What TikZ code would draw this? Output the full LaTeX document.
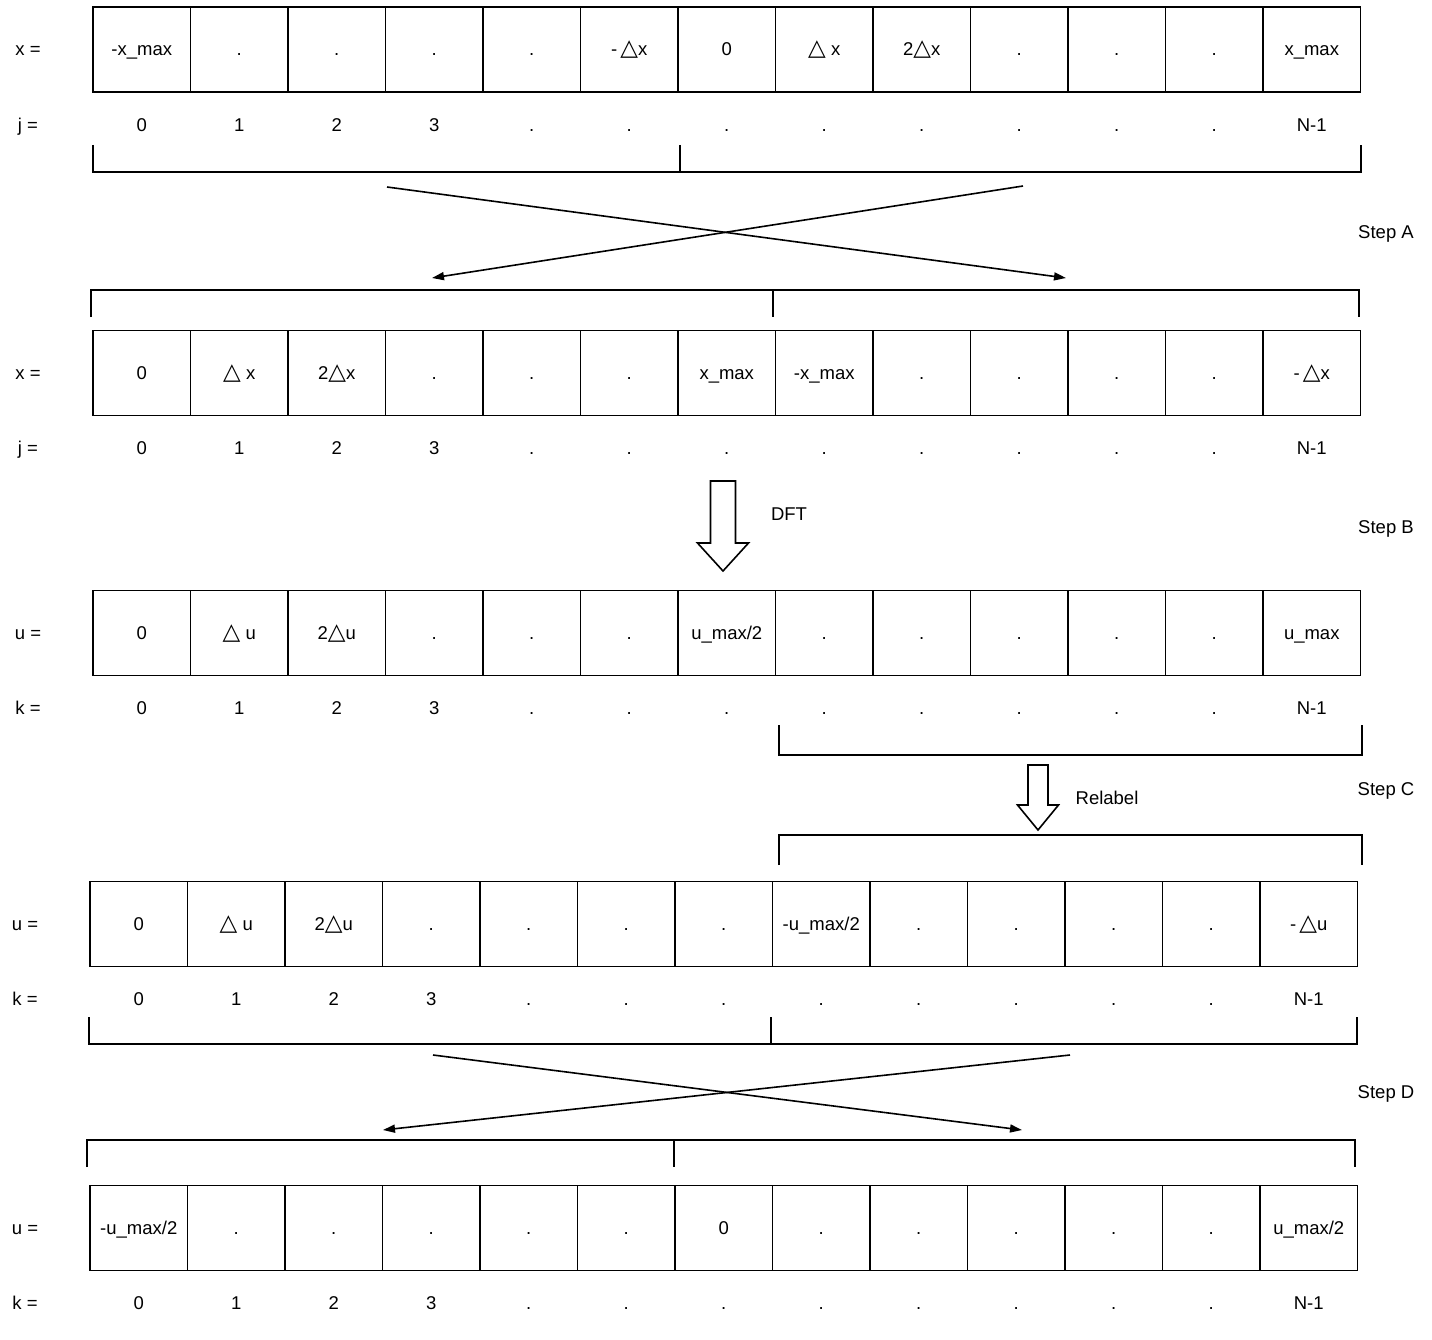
\documentclass[tikz,border=0pt]{standalone}
\usepackage{fontspec}
\setmainfont{Liberation Sans}
\newfontfamily\symfont{DejaVu Sans}
\usetikzlibrary{arrows.meta}

\newcommand{\tri}{{\symfont\fontsize{23}{23}\selectfont\char"25B3}}

\begin{document}
\begin{tikzpicture}[x=1pt, y=-1pt, line width=1.6pt,
  font=\fontsize{18.5}{21}\selectfont,
  every node/.style={text height=13pt, text depth=0pt},
  cell/.style={draw, minimum width=97.5pt, minimum height=85pt, inner sep=0pt},
  idx/.style={inner sep=1pt},
  brk/.style={line width=1.6pt},
  xarr/.style={line width=1.6pt, -{Triangle[length=12pt, width=8pt]}},
  hollow/.style={line width=1.6pt, fill=white}]
  \useasboundingbox (0,0) rectangle (1432,1340);

  % row 1: x before shift
  \node (lxa) at (28,49.5) {x =};
  \node (lja) at (28,125) {j =};
  \foreach \v [count=\i from 0] in {-x\_max,.,.,.,.,-\,\tri x,0,\tri\ x,2\tri x,.,.,.,x\_max}
    \node[cell] (xa\i) at ({141.75+97.5*\i},49.5) {\v};
  \foreach \v [count=\i from 0] in {0,1,2,3,.,.,.,.,.,.,.,.,N-1}
    \node[idx, yshift=-75.5pt] (ja\i) at (xa\i) {\v};

  \draw[brk] (93,145) -- (93,172) -- (1361,172) -- (1361,145);
  \draw[brk] (680,145) -- (680,172);

  % step A
  \coordinate (aL) at (387,187);
  \coordinate (aR) at (1023,186);
  \coordinate (aLe) at (432,278);
  \coordinate (aRe) at (1066,278);
  \draw[xarr] (aL) -- (aRe);
  \draw[xarr] (aR) -- (aLe);
  \node (stepA) at (1386,232) {Step A};

  \draw[brk] (91,317) -- (91,290) -- (1359,290) -- (1359,317);
  \draw[brk] (773,290) -- (773,317);

  % row 2: x after shift
  \node (lxb) at (28,373) {x =};
  \node (ljb) at (28,448) {j =};
  \foreach \v [count=\i from 0] in {0,\tri\ x,2\tri x,.,.,.,x\_max,-x\_max,.,.,.,.,-\,\tri x}
    \node[cell] (xb\i) at ({141.75+97.5*\i},373) {\v};
  \foreach \v [count=\i from 0] in {0,1,2,3,.,.,.,.,.,.,.,.,N-1}
    \node[idx, yshift=-75pt] (jb\i) at (xb\i) {\v};

  % step B
  \coordinate (dft) at (723,481);
  \draw[hollow] (dft) ++(-12.5,0) -- ++(0,62) -- ++(-13,0) -- (723,571)
    -- (748.5,543) -- ++(-13,0) -- ++(0,-62) -- cycle;
  \node (dftl) at (789,514) {DFT};
  \node (stepB) at (1386,527) {Step B};

  % row 3: u before relabel
  \node (lua) at (28,633) {u =};
  \node (lka) at (28,708) {k =};
  \foreach \v [count=\i from 0] in {0,\tri\ u,2\tri u,.,.,.,u\_max/2,.,.,.,.,.,u\_max}
    \node[cell] (ua\i) at ({141.75+97.5*\i},633) {\v};
  \foreach \v [count=\i from 0] in {0,1,2,3,.,.,.,.,.,.,.,.,N-1}
    \node[idx, yshift=-75pt] (ka\i) at (ua\i) {\v};

  \draw[brk] (779,725) -- (779,755) -- (1362,755) -- (1362,725);

  % step C
  \coordinate (rel) at (1038,765);
  \draw[hollow] (rel) ++(-10,0) -- ++(0,40) -- ++(-10.5,0) -- (1038,830)
    -- (1058.5,805) -- ++(-10.5,0) -- ++(0,-40) -- cycle;
  \node (rell) at (1107,798) {Relabel};
  \node (stepC) at (1386,789) {Step C};

  \draw[brk] (779,865) -- (779,835) -- (1362,835) -- (1362,865);

  % row 4: u after relabel
  \node (lub) at (25,924) {u =};
  \node (lkb) at (25,999) {k =};
  \foreach \v [count=\i from 0] in {0,\tri\ u,2\tri u,.,.,.,.,-u\_max/2,.,.,.,.,-\,\tri u}
    \node[cell] (ub\i) at ({138.75+97.5*\i},924) {\v};
  \foreach \v [count=\i from 0] in {0,1,2,3,.,.,.,.,.,.,.,.,N-1}
    \node[idx, yshift=-75pt] (kb\i) at (ub\i) {\v};

  \draw[brk] (89,1017) -- (89,1044) -- (1357,1044) -- (1357,1017);
  \draw[brk] (771,1017) -- (771,1044);

  % step D
  \coordinate (dL) at (433,1055);
  \coordinate (dR) at (1070,1055);
  \coordinate (dLe) at (383,1130);
  \coordinate (dRe) at (1022,1130);
  \draw[xarr] (dL) -- (dRe);
  \draw[xarr] (dR) -- (dLe);
  \node (stepD) at (1386,1092) {Step D};

  \draw[brk] (87,1167) -- (87,1140) -- (1355,1140) -- (1355,1167);
  \draw[brk] (674,1140) -- (674,1167);

  % row 5: u after shift
  \node (luc) at (25,1228) {u =};
  \node (lkc) at (25,1303) {k =};
  \foreach \v [count=\i from 0] in {-u\_max/2,.,.,.,.,.,0,.,.,.,.,.,u\_max/2}
    \node[cell] (uc\i) at ({138.75+97.5*\i},1228) {\v};
  \foreach \v [count=\i from 0] in {0,1,2,3,.,.,.,.,.,.,.,.,N-1}
    \node[idx, yshift=-75pt] (kc\i) at (uc\i) {\v};
\end{tikzpicture}
\end{document}
